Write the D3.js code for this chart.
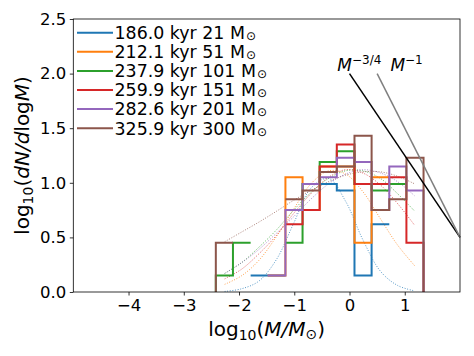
<!DOCTYPE html>
<html>
<head>
<meta charset="utf-8">
<script src="https://cdn.jsdelivr.net/npm/d3@7"></script>
<style>
  body { margin: 0; background: #fff; }
  text { font-family: "DejaVu Sans", sans-serif; fill: #000; }
</style>
</head>
<body>
<div id="chart"></div>
<script>
// bin edges of the histograms, log10(M/Msun)
const binEdges = [-2.42, -2.11, -1.79, -1.48, -1.16, -0.85, -0.54, -0.23, 0.09, 0.40, 0.72, 1.03, 1.34]

// legend labels (Msun symbol added as subscript)
const labels = ['186.0 kyr 21 M', '212.1 kyr 51 M', '237.9 kyr 101 M', '259.9 kyr 151 M', '282.6 kyr 201 M', '325.9 kyr 300 M']
const colors = ['#1f77b4', '#ff7f0e', '#2ca02c', '#d62728', '#9467bd', '#8c564b']

// log10(dN/dlogM) per bin, null = empty bin
const hist186 = [null, null, 0.15, 0.15, null, null, 0.99, 0.93, 0.15, 0.62, null, null]
const hist212 = [null, null, null, 0.15, 1.05, 0.75, 1.15, 1.15, 0.45, 1.05, null, null]
const hist238 = [0.15, 0.45, null, null, 0.45, 0.99, 1.19, 1.29, 0.99, 0.93, 0.99, null]
const hist260 = [null, null, null, null, 0.62, 0.75, 1.15, 1.35, 0.99, 0.99, 1.05, 0.45]
const hist283 = [null, null, null, 0.15, 0.75, 0.99, 1.05, 1.23, 1.19, 0.75, 1.15, 0.93]
const hist326 = [0.45, null, null, null, 0.85, 0.93, 1.10, 1.15, 1.43, 0.75, 0.85, 1.23]

// dotted fit curves, read at the bin centres
const fitX = [-2.26, -1.95, -1.64, -1.32, -1.01, -0.70, -0.38, -0.07, 0.24, 0.56, 0.87, 1.18]
const fit186 = [0.005, 0.03, 0.10, 0.30, 0.63, 0.95, 1.04, 0.83, 0.48, 0.19, 0.06, 0.01]
const fit212 = [0.07, 0.15, 0.29, 0.51, 0.76, 0.99, 1.11, 1.08, 0.92, 0.67, 0.43, 0.24]
const fit238 = [0.17, 0.27, 0.41, 0.57, 0.75, 0.91, 1.04, 1.11, 1.11, 1.04, 0.90, 0.74]
const fit260 = [0.12, 0.21, 0.35, 0.52, 0.72, 0.90, 1.05, 1.12, 1.09, 0.98, 0.81, 0.61]
const fit283 = [0.17, 0.27, 0.39, 0.54, 0.69, 0.85, 0.99, 1.08, 1.12, 1.09, 1.01, 0.88]
const fit326 = [0.46, 0.55, 0.64, 0.74, 0.84, 0.93, 1.01, 1.07, 1.10, 1.10, 1.06, 0.99]

// power-law guide lines
const slope34 = [[0, 2.0], [2, 0.5]]
const slope1 = [[0.5, 2.0], [2, 0.5]]

const xTicks = [-4, -3, -2, -1, 0, 1]
const yTicks = [0, 0.5, 1.0, 1.5, 2.0, 2.5]

const hists = [hist186, hist212, hist238, hist260, hist283, hist326]
const fits = [fit186, fit212, fit238, fit260, fit283, fit326]

const W = 474, H = 356
const box = { left: 73.3, right: 460, top: 19, bottom: 292 }

const svg = d3.select('#chart').append('svg')
  .attr('width', W).attr('height', H)

const x = d3.scaleLinear().domain([-5, 2]).range([box.left, box.right])
const y = d3.scaleLinear().domain([0, 2.5]).range([box.bottom, box.top])

// stairs outline: drop to baseline only at the outer edges, break on empty bins
function stairPoints(vals) {
  const pts = [[binEdges[0], 0]]
  vals.forEach((v, i) => {
    pts.push(v == null ? null : [binEdges[i], v])
    pts.push(v == null ? null : [binEdges[i + 1], v])
  })
  pts.push([binEdges[binEdges.length - 1], 0])
  return pts
}

const stairLine = d3.line()
  .defined(d => d != null)
  .x(d => x(d[0]))
  .y(d => y(d[1]))

const fitLine = d3.line()
  .x(d => x(d[0]))
  .y(d => y(d[1]))
  .curve(d3.curveCatmullRom)

const plot = svg.append('g')

fits.forEach((f, i) => {
  plot.append('path')
    .attr('d', fitLine(f.map((v, j) => [fitX[j], v])))
    .attr('fill', 'none')
    .attr('stroke', colors[i])
    .attr('stroke-width', 1)
    .attr('stroke-dasharray', '1,1.6')
    .attr('opacity', 0.75)
})

hists.forEach((h, i) => {
  plot.append('path')
    .attr('d', stairLine(stairPoints(h)))
    .attr('fill', 'none')
    .attr('stroke', colors[i])
    .attr('stroke-width', 2)
})

const guide = d3.line().x(d => x(d[0])).y(d => y(d[1]))
plot.append('path').attr('d', guide(slope34))
  .attr('stroke', '#000').attr('stroke-width', 1.5).attr('fill', 'none')
plot.append('path').attr('d', guide(slope1))
  .attr('stroke', 'grey').attr('stroke-width', 1.5).attr('fill', 'none')

// guide labels
const g34 = svg.append('text').attr('x', x(-0.22)).attr('y', 70.5).attr('font-size', 17)
g34.append('tspan').attr('font-style', 'italic').text('M')
g34.append('tspan').attr('font-size', 12).attr('dy', -7).text('\u22123/4')
const g1 = svg.append('text').attr('x', x(0.74)).attr('y', 70.5).attr('font-size', 17)
g1.append('tspan').attr('font-style', 'italic').text('M')
g1.append('tspan').attr('font-size', 12).attr('dy', -7).text('\u22121')

// axes
const xAxis = svg.append('g')
  .attr('transform', `translate(0,${box.bottom})`)
  .call(d3.axisBottom(x).tickValues(xTicks).tickSize(3.5).tickPadding(3.5)
    .tickFormat(d => (d < 0 ? '\u2212' + Math.abs(d) : d)))
const yAxis = svg.append('g')
  .attr('transform', `translate(${box.left},0)`)
  .call(d3.axisLeft(y).tickValues(yTicks).tickSize(3.5).tickPadding(3.5)
    .tickFormat(d3.format('.1f')))

;[xAxis, yAxis].forEach(a => {
  a.select('.domain').remove()
  a.selectAll('text').attr('font-size', 16.5).attr('font-family', 'DejaVu Sans').attr('fill', '#000')
  a.selectAll('line').attr('stroke', '#000').attr('stroke-width', 0.8)
})

svg.append('rect')
  .attr('x', box.left).attr('y', box.top)
  .attr('width', box.right - box.left).attr('height', box.bottom - box.top)
  .attr('fill', 'none').attr('stroke', '#000').attr('stroke-width', 0.8)

// axis labels
const xl = svg.append('text')
  .attr('x', (box.left + box.right) / 2).attr('y', 336)
  .attr('text-anchor', 'middle').attr('font-size', 20)
xl.append('tspan').text('log')
xl.append('tspan').attr('font-size', 14).attr('dy', 4).text('10')
xl.append('tspan').attr('dy', -4).text('(')
xl.append('tspan').attr('font-style', 'italic').text('M/M')
xl.append('tspan').attr('font-size', 14).attr('dy', 3).text('\u2299')
xl.append('tspan').attr('dy', -3).text(')')

const yl = svg.append('text')
  .attr('transform', `translate(29,${(box.top + box.bottom) / 2}) rotate(-90)`)
  .attr('text-anchor', 'middle').attr('font-size', 20)
yl.append('tspan').text('log')
yl.append('tspan').attr('font-size', 14).attr('dy', 4).text('10')
yl.append('tspan').attr('dy', -4).text('(')
yl.append('tspan').attr('font-style', 'italic').text('dN/d')
yl.append('tspan').text('log')
yl.append('tspan').attr('font-style', 'italic').text('M')
yl.append('tspan').text(')')

// legend
labels.forEach((lab, i) => {
  const cy = 32.7 + i * 19.1
  svg.append('line')
    .attr('x1', 77).attr('x2', 113).attr('y1', cy).attr('y2', cy)
    .attr('stroke', colors[i]).attr('stroke-width', 2)
  const t = svg.append('text').attr('x', 114.5).attr('y', cy + 6.3).attr('font-size', 17.4)
  t.append('tspan').text(lab)
  t.append('tspan').attr('font-size', 12).attr('dx', 1).attr('dy', 1).text('\u2299')
})
</script>
</body>
</html>
